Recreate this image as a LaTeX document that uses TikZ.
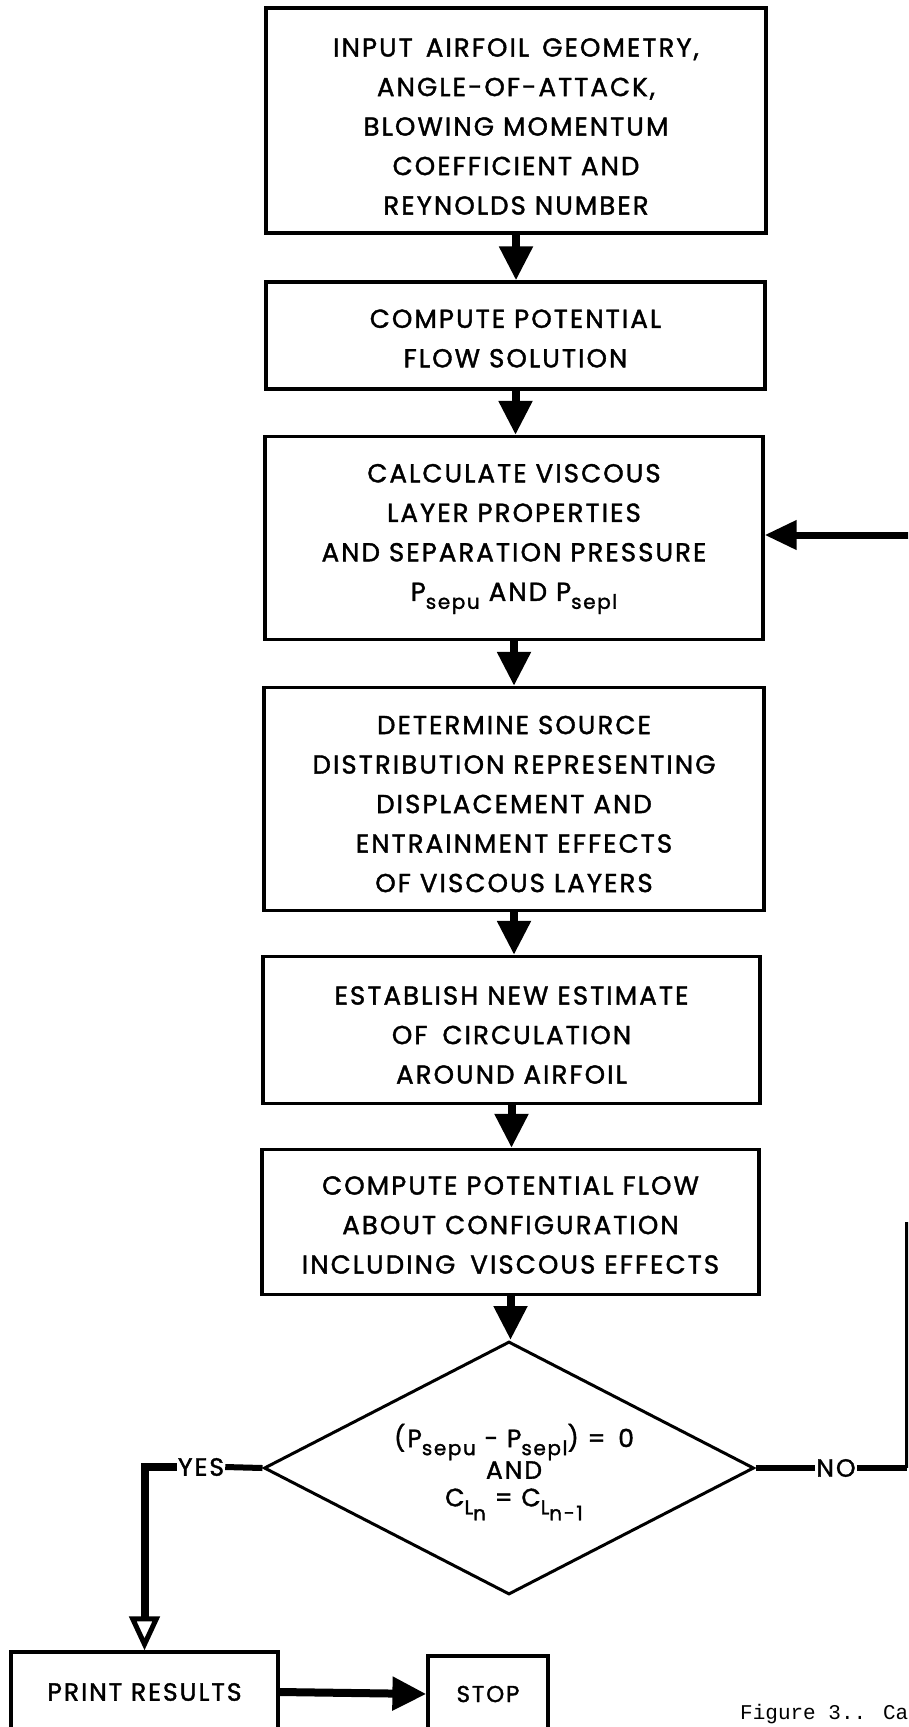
\documentclass[tikz,border=0pt]{standalone}
\usepackage{fontspec}
\setmainfont{Poppins}
\newfontfamily\boxfont[LetterSpace=8,FakeBold=1.5]{Poppins}
\newfontfamily\capfont{Liberation Mono}
\usetikzlibrary{arrows.meta,shapes.geometric}
% lowered, smaller index text (P_sepu, C_L_n ...)
\newcommand\lowsub[2][8pt]{\raisebox{-#1}{\fontsize{20}{20}\selectfont #2}}
\begin{document}
\begin{tikzpicture}[x=1pt,y=-1pt,
  stepbox/.style={draw, line width=3.2pt, rectangle, inner sep=0pt},
  steptext/.style={inner sep=0pt, align=center,
    font=\boxfont\fontsize{26}{39.5}\selectfont},
  decision/.style={draw, line width=3pt, diamond, inner sep=0pt},
  dectext/.style={inner sep=0pt, align=center,
    font=\boxfont\fontsize{25}{27.5}\selectfont},
  tag/.style={inner sep=1pt, font=\boxfont\fontsize{25}{25}\selectfont},
  flow/.style={line width=8pt, -{Triangle[width=32pt,length=34pt]}},
  feedback/.style={line width=7pt, -{Triangle[width=28pt,length=32pt]}},
  branch/.style={line width=6pt},
  yesflow/.style={line width=8pt, -{Triangle[open,width=30pt,length=34pt,line width=5pt]}},
]
\useasboundingbox (0,0) rectangle (908,1727);
\clip (0,0) rectangle (908,1727);

% process steps: frames
\node[stepbox, minimum width=500pt, minimum height=225pt] (b1) at (516,120.5) {};
\node[stepbox, minimum width=499pt, minimum height=107pt] (b2) at (515.5,335.5) {};
\node[stepbox, minimum width=498pt, minimum height=203pt] (b3) at (514,538) {};
\node[stepbox, minimum width=500pt, minimum height=223pt] (b4) at (514,799) {};
\node[stepbox, minimum width=497pt, minimum height=147pt] (b5) at (511.5,1030) {};
\node[stepbox, minimum width=497pt, minimum height=145pt] (b6) at (510.5,1222) {};

% process steps: wording
\node[steptext] (t1) at ([yshift=-6pt]b1.center)
  {INPUT\hspace{4pt} AIRFOIL\hspace{4pt} GEOMETRY,\\ ANGLE-OF-ATTACK,\\ BLOWING MOMENTUM\\ COEFFICIENT AND\\ REYNOLDS NUMBER};
\node[steptext] (t2) at ([yshift=-3pt]b2.center)
  {COMPUTE POTENTIAL\\ FLOW SOLUTION};
\node[steptext] (t3) at ([yshift=-1pt]b3.center)
  {CALCULATE VISCOUS\\ LAYER PROPERTIES\\ AND SEPARATION PRESSURE\\ P\lowsub{sepu} AND P\lowsub{sepl}};
\node[steptext] (t4) at ([yshift=-5pt]b4.center)
  {DETERMINE SOURCE\\ DISTRIBUTION REPRESENTING\\ DISPLACEMENT AND\\ ENTRAINMENT EFFECTS\\ OF VISCOUS LAYERS};
\node[steptext] (t5) at ([yshift=-5pt]b5.center)
  {ESTABLISH NEW ESTIMATE\\ OF\hspace{6pt} CIRCULATION\\ AROUND AIRFOIL};
\node[steptext] (t6) at ([yshift=-3pt]b6.center)
  {COMPUTE POTENTIAL FLOW\\ ABOUT CONFIGURATION\\ INCLUDING\hspace{6pt} VISCOUS EFFECTS};

% convergence test
\node[decision, minimum width=490pt, minimum height=253pt] (dec) at (509,1468) {};
\node[dectext] (dect) at (514,1472)
  {(P\lowsub{sepu} - P\lowsub{sepl}) = \hspace{4pt}0\\ AND\\
   C\lowsub{L\lowsub[6pt]{n}} = C\lowsub{L\lowsub[6pt]{n-1}}};

% output and end
\node[stepbox, minimum width=267pt, minimum height=80pt, font=\boxfont\fontsize{25}{25}\selectfont]
  (pr) at (144.5,1692) {PRINT RESULTS};
\node[stepbox, minimum width=120pt, minimum height=76pt, font=\boxfont\fontsize{23}{23}\selectfont]
  (stop) at (488,1694) {STOP};

% branch labels
\node[tag] (yes) at (201,1467) {YES};
\node[tag] (no) at (836,1468) {NO};

% caption
\node[anchor=base west, inner sep=0pt, font=\capfont\fontsize{21}{21}\selectfont] (cap)
  at (740,1719) {Figure 3.. Ca};

% main flow
\draw[flow] (b1.south) -- (b1.south |- b2.north);
\draw[flow] (b2.south) -- (b2.south |- b3.north);
\draw[flow] (b3.south) -- (b3.south |- b4.north);
\draw[flow] (b4.south) -- (b4.south |- b5.north);
\draw[flow] (b5.south) -- (b5.south |- b6.north);
\draw[flow] (b6.south) -- (b6.south |- dec.north);

% YES branch
\draw[branch] (dec.west) -- (yes.east);
\draw[yesflow] (yes.west) -| (pr.north);
\draw[flow] (pr.east) -- (stop.west);

% NO branch, back to the viscous layer step
\coordinate (lo) at (907,1468);
\coordinate (hi) at (907,1222);
\coordinate (ret) at (912,535);
\draw[branch] (dec.east) -- (no.west);
\draw[branch] (no.east) -- (lo);
\draw[line width=4pt] (lo) -- (hi);
\draw[feedback] (ret) -- (b3.east |- ret);
\end{tikzpicture}
\end{document}
